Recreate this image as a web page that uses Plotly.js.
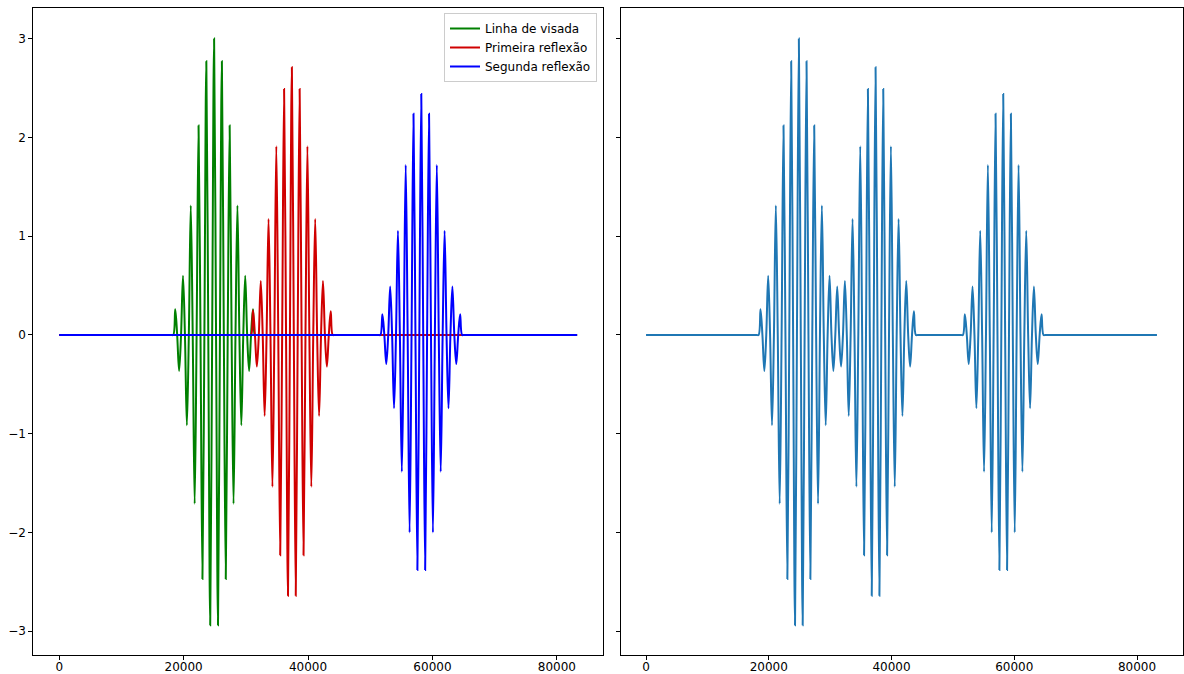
<!DOCTYPE html>
<html><head><meta charset="utf-8">
<script src="https://cdn.plot.ly/plotly-3.0.1.min.js"></script>
<style>html,body{margin:0;padding:0;background:#fff}#chart{width:1184px;height:674px}</style>
</head><body><div id="chart"></div>
<script>
const seriesNames = ["Linha de visada", "Primeira reflexão", "Segunda reflexão"];
const xTickVals = [0, 20000, 40000, 60000, 80000];
const xTickText = ["0", "20000", "40000", "60000", "80000"];
const yTickVals = [-3, -2, -1, 0, 1, 2, 3];
const yTickText = ["−3", "−2", "−1", "0", "1", "2", "3"];

// Linha de visada (green) – extrema and zero crossings
const greenX = [0, 18025,
  18338, 18650, 18963, 19275, 19588, 19900, 20213, 20525, 20838, 21150,
  21463, 21775, 22088, 22400, 22713, 23025, 23338, 23650, 23963, 24275,
  24588, 24900, 25213, 25525, 25838, 26150, 26463, 26775, 27088, 27400,
  27713, 28025, 28338, 28650, 28963, 29275, 29588, 29900, 30213, 30525,
  30838, 31150, 31463,
  31775, 83250];
const greenY = [0, 0,
  0, 0.26, 0, -0.365, 0, 0.60, 0, -0.915, 0, 1.31,
  0, -1.71, 0, 2.12, 0, -2.47, 0, 2.77, 0, -2.94,
  0, 3.00, 0, -2.94, 0, 2.77, 0, -2.47, 0, 2.12,
  0, -1.71, 0, 1.31, 0, -0.915, 0, 0.60, 0, -0.365,
  0, 0.26, 0,
  0, 0];

// Primeira reflexão (red)
const redX = [0, 30525,
  30838, 31150, 31463, 31775, 32088, 32400, 32713, 33025, 33338, 33650,
  33963, 34275, 34588, 34900, 35213, 35525, 35838, 36150, 36463, 36775,
  37088, 37400, 37713, 38025, 38338, 38650, 38963, 39275, 39588, 39900,
  40213, 40525, 40838, 41150, 41463, 41775, 42088, 42400, 42713, 43025,
  43338, 43650, 43963,
  44275, 83250];
const redY = [0, 0,
  0, 0.25, 0, -0.32, 0, 0.547, 0, -0.82, 0, 1.175,
  0, -1.536, 0, 1.91, 0, -2.23, 0, 2.49, 0, -2.64,
  0, 2.71, 0, -2.64, 0, 2.49, 0, -2.23, 0, 1.91,
  0, -1.536, 0, 1.175, 0, -0.82, 0, 0.547, 0, -0.32,
  0, 0.24, 0,
  0, 0];

// Segunda reflexão (blue)
const blueX = [0, 51325,
  51638, 51950, 52263, 52575, 52888, 53200, 53513, 53825, 54138, 54450,
  54763, 55075, 55388, 55700, 56013, 56325, 56638, 56950, 57263, 57575,
  57888, 58200, 58513, 58825, 59138, 59450, 59763, 60075, 60388, 60700,
  61013, 61325, 61638, 61950, 62263, 62575, 62888, 63200, 63513, 63825,
  64138, 64450, 64763,
  65075, 83250];
const blueY = [0, 0,
  0, 0.21, 0, -0.294, 0, 0.49, 0, -0.742, 0, 1.056,
  0, -1.384, 0, 1.72, 0, -2.0, 0, 2.24, 0, -2.38,
  0, 2.44, 0, -2.38, 0, 2.24, 0, -2.0, 0, 1.72,
  0, -1.384, 0, 1.056, 0, -0.742, 0, 0.49, 0, -0.294,
  0, 0.21, 0,
  0, 0];

// Combined signal (right panel)
const sumX = [0, 18025,
  18338, 18650, 18963, 19275, 19588, 19900, 20213, 20525, 20838, 21150,
  21463, 21775, 22088, 22400, 22713, 23025, 23338, 23650, 23963, 24275,
  24588, 24900, 25213, 25525, 25838, 26150, 26463, 26775, 27088, 27400,
  27713, 28025, 28338, 28650, 28963, 29275, 29588, 29900, 30213, 30525,
  30838,
  31150, 31463,
  31775, 32088, 32400, 32713, 33025, 33338, 33650,
  33963, 34275, 34588, 34900, 35213, 35525, 35838, 36150, 36463, 36775,
  37088, 37400, 37713, 38025, 38338, 38650, 38963, 39275, 39588, 39900,
  40213, 40525, 40838, 41150, 41463, 41775, 42088, 42400, 42713, 43025,
  43338, 43650, 43963,
  44275, 51325,
  51638, 51950, 52263, 52575, 52888, 53200, 53513, 53825, 54138, 54450,
  54763, 55075, 55388, 55700, 56013, 56325, 56638, 56950, 57263, 57575,
  57888, 58200, 58513, 58825, 59138, 59450, 59763, 60075, 60388, 60700,
  61013, 61325, 61638, 61950, 62263, 62575, 62888, 63200, 63513, 63825,
  64138, 64450, 64763,
  65075, 83250];
const sumY = [0, 0,
  0, 0.26, 0, -0.365, 0, 0.60, 0, -0.915, 0, 1.31,
  0, -1.71, 0, 2.12, 0, -2.47, 0, 2.77, 0, -2.94,
  0, 3.00, 0, -2.94, 0, 2.77, 0, -2.47, 0, 2.12,
  0, -1.71, 0, 1.31, 0, -0.915, 0, 0.60, 0, -0.365,
  0,
  0.49, 0,
  -0.32, 0, 0.547, 0, -0.82, 0, 1.175,
  0, -1.536, 0, 1.91, 0, -2.23, 0, 2.49, 0, -2.64,
  0, 2.71, 0, -2.64, 0, 2.49, 0, -2.23, 0, 1.91,
  0, -1.536, 0, 1.175, 0, -0.82, 0, 0.547, 0, -0.32,
  0, 0.24, 0,
  0, 0,
  0, 0.21, 0, -0.294, 0, 0.49, 0, -0.742, 0, 1.056,
  0, -1.384, 0, 1.72, 0, -2.0, 0, 2.24, 0, -2.38,
  0, 2.44, 0, -2.38, 0, 2.24, 0, -2.0, 0, 1.72,
  0, -1.384, 0, 1.056, 0, -0.742, 0, 0.49, 0, -0.294,
  0, 0.21, 0,
  0, 0];

const colors = ["#008000", "#d00000", "#0000ff"];
const sumColor = "#1f77b4";

function wave(x, y, name, color, xa, ya, legend) {
  return {x: x, y: y, name: name, type: "scatter", mode: "lines",
    xaxis: xa, yaxis: ya, showlegend: legend,
    line: {color: color, width: 2, shape: "spline", smoothing: 1, simplify: false},
    hoverinfo: "skip"};
}

const traces = [
  wave(greenX, greenY, seriesNames[0], colors[0], "x", "y", true),
  wave(redX, redY, seriesNames[1], colors[1], "x", "y", true),
  wave(blueX, blueY, seriesNames[2], colors[2], "x", "y", true),
  wave(sumX, sumY, "soma", sumColor, "x2", "y2", false)
];

const W = 1184, H = 674;
const fontSpec = {family: "DejaVu Sans, sans-serif", size: 12, color: "#000"};
function xAxis(domain, anchor) {
  return {domain: domain, anchor: anchor, range: [-4162, 87412],
    tickmode: "array", tickvals: xTickVals, ticktext: xTickText,
    ticks: "outside", ticklen: 4, tickwidth: 1, tickcolor: "#000",
    ticklabelstandoff: -3,
    showline: true, mirror: true, linecolor: "#000", linewidth: 1,
    showgrid: false, zeroline: false, tickfont: fontSpec, fixedrange: true};
}
function yAxis(anchor, labels) {
  return {domain: [1 - 655 / H, 1 - 8 / H], anchor: anchor, range: [-3.24, 3.31],
    tickmode: "array", tickvals: yTickVals, ticktext: yTickText, showticklabels: labels,
    ticks: "outside", ticklen: 4, tickwidth: 1, tickcolor: "#000",
    showline: true, mirror: true, linecolor: "#000", linewidth: 1,
    showgrid: false, zeroline: false, tickfont: fontSpec, fixedrange: true};
}

const layout = {
  width: W, height: H,
  margin: {l: 0, r: 0, t: 0, b: 0},
  paper_bgcolor: "#fff", plot_bgcolor: "#fff",
  font: fontSpec,
  showlegend: true,
  legend: {x: 597 / W, xanchor: "right", y: 1 - 13 / H, yanchor: "top",
    bgcolor: "rgba(255,255,255,0.8)", bordercolor: "#cccccc", borderwidth: 1,
    font: fontSpec, tracegroupgap: 0, itemwidth: 30},
  xaxis: xAxis([33.3 / W, 603 / W], "y"),
  yaxis: yAxis("x", true),
  xaxis2: xAxis([620.5 / W, 1182.5 / W], "y2"),
  yaxis2: yAxis("x2", false)
};

Plotly.newPlot("chart", traces, layout, {displayModeBar: false, staticPlot: true});
</script>
</body></html>
